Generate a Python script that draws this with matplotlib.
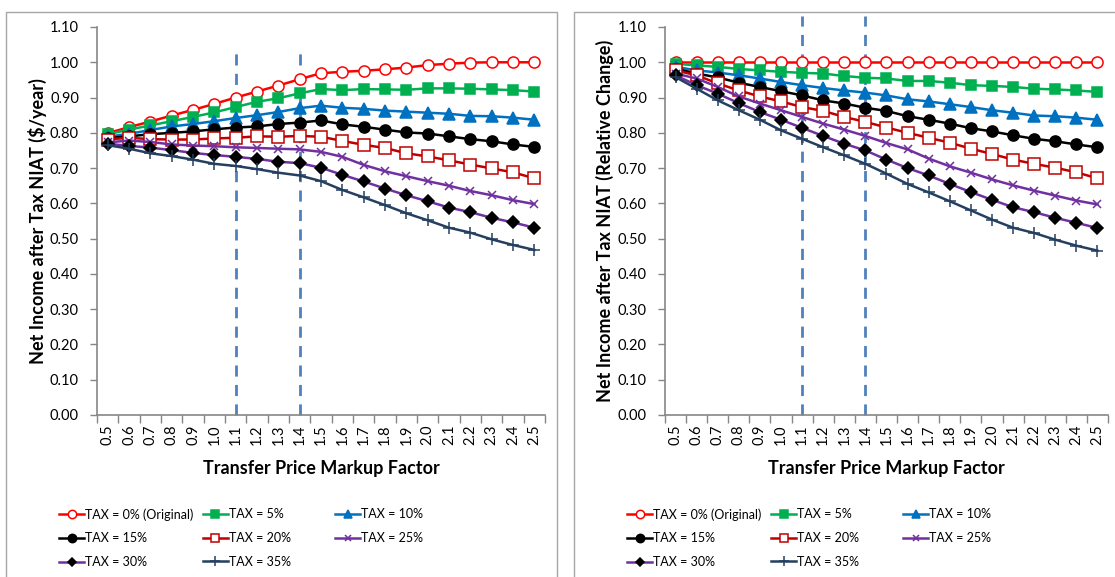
import numpy as np
import matplotlib
matplotlib.use("Agg")
import matplotlib.pyplot as plt
from matplotlib.patches import Rectangle

plt.rcParams['font.family'] = ['Lato', 'DejaVu Sans']

markup = ["0.5", "0.6", "0.7", "0.8", "0.9", "1.0", "1.1", "1.2", "1.3", "1.4", "1.5",
          "1.6", "1.7", "1.8", "1.9", "2.0", "2.1", "2.2", "2.3", "2.4", "2.5"]

labels = ["TAX = 0% (Original)", "TAX = 5%", "TAX = 10%", "TAX = 15%",
          "TAX = 20%", "TAX = 25%", "TAX = 30%", "TAX = 35%"]

# left panel: NIAT in $/year
niat_0 = [0.799, 0.816, 0.832, 0.849, 0.865, 0.882, 0.900, 0.917, 0.934, 0.952, 0.969,
          0.973, 0.976, 0.980, 0.985, 0.992, 0.996, 0.999, 1.000, 1.000, 1.000]
niat_5 = [0.796, 0.809, 0.821, 0.833, 0.845, 0.858, 0.873, 0.888, 0.898, 0.912, 0.924,
          0.921, 0.924, 0.923, 0.922, 0.926, 0.926, 0.925, 0.923, 0.921, 0.917]
niat_10 = [0.789, 0.797, 0.808, 0.818, 0.825, 0.833, 0.842, 0.850, 0.859, 0.870, 0.877,
           0.871, 0.868, 0.863, 0.860, 0.857, 0.854, 0.848, 0.847, 0.843, 0.837]
niat_15 = [0.785, 0.790, 0.796, 0.800, 0.804, 0.810, 0.815, 0.818, 0.825, 0.829, 0.835,
           0.824, 0.817, 0.809, 0.801, 0.798, 0.790, 0.782, 0.776, 0.767, 0.760]
niat_20 = [0.781, 0.786, 0.782, 0.781, 0.781, 0.784, 0.786, 0.790, 0.789, 0.791, 0.789,
           0.777, 0.766, 0.757, 0.742, 0.733, 0.722, 0.710, 0.699, 0.688, 0.671]
niat_25 = [0.773, 0.778, 0.774, 0.767, 0.764, 0.762, 0.759, 0.757, 0.755, 0.753, 0.746,
           0.732, 0.709, 0.691, 0.677, 0.663, 0.650, 0.635, 0.623, 0.609, 0.598]
niat_30 = [0.769, 0.763, 0.758, 0.751, 0.743, 0.737, 0.732, 0.726, 0.718, 0.714, 0.701,
           0.681, 0.662, 0.642, 0.623, 0.606, 0.588, 0.575, 0.559, 0.546, 0.531]
niat_35 = [0.765, 0.755, 0.742, 0.734, 0.724, 0.712, 0.706, 0.697, 0.687, 0.679, 0.663,
           0.638, 0.617, 0.595, 0.572, 0.552, 0.531, 0.517, 0.498, 0.482, 0.468]

# right panel: NIAT relative change
rel_0 = [1.000] * 21
rel_5 = [0.996, 0.991, 0.987, 0.981, 0.977, 0.973, 0.970, 0.968, 0.961, 0.956, 0.954,
         0.947, 0.947, 0.942, 0.935, 0.933, 0.930, 0.925, 0.923, 0.920, 0.916]
rel_10 = [0.987, 0.977, 0.971, 0.963, 0.954, 0.944, 0.935, 0.927, 0.920, 0.914, 0.906,
          0.895, 0.889, 0.881, 0.873, 0.864, 0.857, 0.849, 0.847, 0.843, 0.837]
rel_15 = [0.982, 0.968, 0.957, 0.942, 0.930, 0.918, 0.906, 0.892, 0.883, 0.871, 0.862,
          0.847, 0.837, 0.826, 0.813, 0.804, 0.793, 0.783, 0.776, 0.767, 0.759]
rel_20 = [0.977, 0.963, 0.940, 0.920, 0.903, 0.889, 0.873, 0.862, 0.845, 0.831, 0.815,
          0.800, 0.786, 0.772, 0.755, 0.740, 0.724, 0.712, 0.701, 0.688, 0.671]
rel_25 = [0.968, 0.954, 0.930, 0.903, 0.883, 0.864, 0.845, 0.826, 0.809, 0.791, 0.771,
          0.753, 0.727, 0.705, 0.687, 0.668, 0.651, 0.636, 0.622, 0.608, 0.597]
rel_30 = [0.963, 0.935, 0.911, 0.884, 0.859, 0.837, 0.814, 0.791, 0.769, 0.750, 0.724,
          0.700, 0.679, 0.655, 0.632, 0.610, 0.589, 0.575, 0.559, 0.545, 0.530]
rel_35 = [0.958, 0.925, 0.892, 0.864, 0.837, 0.807, 0.783, 0.759, 0.736, 0.712, 0.684,
          0.655, 0.631, 0.606, 0.580, 0.554, 0.531, 0.516, 0.497, 0.480, 0.466]

markers = [1.1, 1.4]

# line colour, marker, marker face, marker edge, marker size
styles = [
    ("#FF0000", "o", "white", "#FF0000", 8),
    ("#00B050", "s", "#00B050", "#00B050", 7),
    ("#0070C0", "^", "#0070C0", "#0070C0", 8),
    ("#000000", "o", "#000000", "#000000", 8),
    ("#C00000", "s", "white", "#C00000", 8),
    ("#7030A0", "x", "#7030A0", "#7030A0", 6),
    ("#7030A0", "D", "#000000", "#000000", 6),
    ("#243F60", "+", "#243F60", "#243F60", 9),
]

fig = plt.figure(figsize=(11.15, 5.77), dpi=100)

# chart area frames
for x0, w in [(6, 551), (574, 560)]:
    fig.patches.append(Rectangle((x0 / 1115, -0.05), w / 1115, 1.05 - 12 / 577,
                                 transform=fig.transFigure, fill=False,
                                 edgecolor="#A6A6A6", linewidth=1.0))

panels = [
    ([97, 545], [niat_0, niat_5, niat_10, niat_15, niat_20, niat_25, niat_30, niat_35],
     "Net Income after Tax NIAT ($/year)", 1.03, -0.132),
    ([665, 1108], [rel_0, rel_5, rel_10, rel_15, rel_20, rel_25, rel_30, rel_35],
     "Net Income after Tax NIAT (Relative Change)", 1.13, -0.135),
]

gray = "#868686"
x = np.arange(len(markup))
for (xl, xr), series, ylabel, vtop, ylx in panels:
    ax = fig.add_axes([xl / 1115, (577 - 415) / 577, (xr - xl) / 1115, 388 / 577])
    handles = []
    for vals, lab, (c, m, fc, ec, ms) in zip(series, labels, styles):
        h, = ax.plot(x, vals, color=c, lw=1.8, marker=m, markerfacecolor=fc,
                     markeredgecolor=ec, markersize=ms, markeredgewidth=1.1,
                     label=lab, zorder=3)
        handles.append(h)
    for mv in markers:
        xi = markup.index(f"{mv:.1f}")
        ax.plot([xi, xi], [0, vtop], color="#4F81BD", lw=2.0, ls=(0, (4, 3)),
                clip_on=False, zorder=2)

    ax.set_xlim(-0.5, len(markup) - 0.5)
    ax.set_ylim(0, 1.1)
    ax.set_yticks(np.arange(0, 1.101, 0.1))
    ax.set_yticklabels([f"{v:.2f}" for v in np.arange(0, 1.101, 0.1)], fontsize=10.5)
    ax.set_xticks(np.arange(-0.5, len(markup), 1.0))
    ax.set_xticklabels([])
    ax.set_xticks(x, minor=True)
    ax.set_xticklabels(markup, minor=True, rotation=90, fontsize=10.5)
    ax.tick_params(axis="x", which="major", length=6, color=gray, width=1)
    ax.tick_params(axis="x", which="minor", length=0, pad=7)
    ax.tick_params(axis="y", length=5, color=gray, width=1, pad=8)
    for s in ["top", "right"]:
        ax.spines[s].set_visible(False)
    for s in ["left", "bottom"]:
        ax.spines[s].set_color(gray)
        ax.spines[s].set_linewidth(1.2)

    ax.set_xlabel("Transfer Price Markup Factor", fontsize=13, fontweight="bold", va="center")
    ax.xaxis.set_label_coords(0.5, -0.137)
    ax.set_ylabel(ylabel, fontsize=13, fontweight="bold", va="center")
    ax.yaxis.set_label_coords(ylx, 0.5)

    # legend, three columns filled row by row
    cols = [[0, 3, 6], [1, 4, 7], [2, 5]]
    col_x = [xl - 38, xl + 106, xl + 238]
    for ci, idx in enumerate(cols):
        fig.legend([handles[i] for i in idx], [labels[i] for i in idx],
                   loc="upper left",
                   bbox_to_anchor=(col_x[ci] / 1115, (577 - 508) / 577),
                   bbox_transform=fig.transFigure, frameon=False,
                   fontsize=9, handlelength=2.0, handletextpad=0.1,
                   labelspacing=0.95, borderaxespad=0, borderpad=0, markerscale=0.75)

fig.savefig("out.png", dpi=100)
